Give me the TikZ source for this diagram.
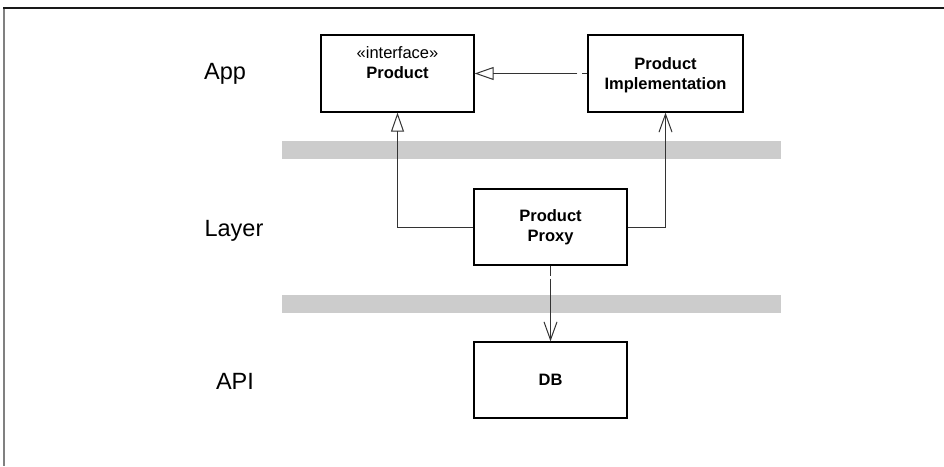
\documentclass[tikz,border=0pt]{standalone}
\usepackage{fontspec}
\setmainfont{Liberation Sans}
\usetikzlibrary{arrows.meta}

\definecolor{bandgray}{HTML}{CCCCCC}
\definecolor{framegray}{HTML}{808080}
\definecolor{linegray}{HTML}{333333}

\tikzset{
  classbox/.style={draw=black, line width=1.3pt, fill=white, inner sep=0pt,
    align=center, font=\fontsize{16.5}{20}\selectfont\bfseries},
  layerlabel/.style={inner sep=0pt, font=\fontsize{23.5}{28}\selectfont},
  band/.style={fill=bandgray, draw=none},
  conn/.style={draw=linegray, line width=1pt},
  generalize/.style={conn, -{Triangle[open, length=19pt, width=13pt, line width=1pt]}},
  dependency/.style={conn, -{Straight Barb[length=18pt, width=13pt, line width=1pt]}},
  realize/.style={generalize, dash pattern=on 5pt off 5pt on 300pt off 1pt},
  usedep/.style={dependency, dash pattern=on 10pt off 3pt on 300pt off 1pt},
}

\begin{document}
\begin{tikzpicture}[x=1pt, y=-1pt]
  \useasboundingbox (0,0) rectangle (944,466);

  % outer frame (top and left edges)
  \draw[framegray, line width=2pt] (3.5,8) -- (3.5,466);
  \draw[black!90, line width=1.5pt] (3,8) -- (944,8);

  % layer separator bands
  \fill[band] (282,141) rectangle (781,159);
  \fill[band] (282,295) rectangle (781,313);

  % layer names
  \node[layerlabel] (lapp)   at (225,74)  {App};
  \node[layerlabel] (llayer) at (234,231) {Layer};
  \node[layerlabel] (lapi)   at (235,381) {API};

  % classes
  \node[classbox, minimum width=153pt, minimum height=77pt] (product) at (397.5,73.5) {};
  \node[inner sep=0pt, align=center, font=\fontsize{16.5}{20.5}\selectfont, anchor=north]
    (producttext) at (397.5,46) {«interface»\\\textbf{Product}};
  \node[classbox, minimum width=155pt, minimum height=77pt,
    text depth=-2pt] (impl) at (665.5,73.5) {Product\\Implementation};
  \node[classbox, minimum width=153pt, minimum height=76pt] (proxy) at (550.5,227) {Product\\Proxy};
  \node[classbox, minimum width=153pt, minimum height=76pt] (db) at (550.5,380) {DB};

  % relations
  \draw[realize] (impl.west) -- (product.east);
  \draw[generalize] (proxy.west) -| (product.south);
  \draw[dependency] (proxy.east) -| (impl.south);
  \draw[usedep] (proxy.south) -- (db.north);
\end{tikzpicture}
\end{document}
